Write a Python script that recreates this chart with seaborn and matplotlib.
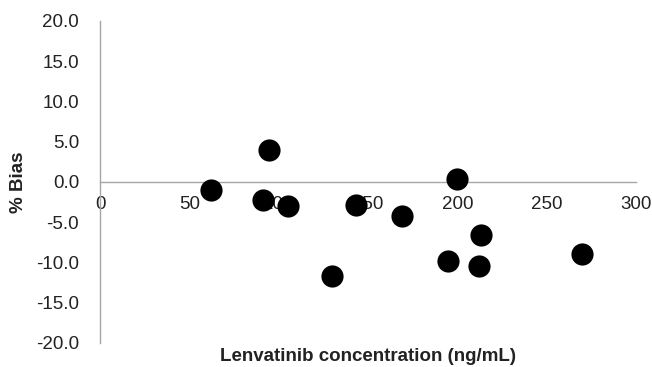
import pandas as pd
import matplotlib.pyplot as plt
import seaborn as sns

# values
concentration = [62, 94.6, 91, 105, 130, 143, 169, 199.6, 213, 194.5, 212, 270]
bias = [-1.0, 4.0, -2.2, -3.0, -11.7, -2.8, -4.2, 0.4, -6.6, -9.8, -10.4, -8.9]
x_ticks = [0, 50, 100, 150, 200, 250, 300]
y_ticks = [-20, -15, -10, -5, 0, 5, 10, 15, 20]

df = pd.DataFrame({'conc': concentration, 'bias': bias})

sns.set_style('white')
plt.rcParams['font.family'] = ['Liberation Sans', 'DejaVu Sans']

fig = plt.figure(figsize=(6.52, 3.67), dpi=100)
ax = fig.add_axes([0.1534, 0.0654, 0.8221, 0.8774])

sns.scatterplot(data=df, x='conc', y='bias', color='black', edgecolor='black',
                s=255, linewidth=0, ax=ax, zorder=3, clip_on=False)

ax.set_xlim(0, 300)
ax.set_ylim(-20, 20)
ax.set_xticks(x_ticks)
ax.set_yticks(y_ticks)
ax.set_yticklabels([f'{v:.1f}' for v in y_ticks])

# excel-style axes: x axis crosses at y = 0
ax.spines['top'].set_visible(False)
ax.spines['right'].set_visible(False)
ax.spines['bottom'].set_position(('data', 0))
for side in ['left', 'bottom']:
    ax.spines[side].set_color('#a6a6a6')
    ax.spines[side].set_linewidth(1.0)

ax.tick_params(axis='both', colors='#a6a6a6', labelcolor='#222222',
               labelsize=13.5, length=4, width=1.0, direction='out')
ax.tick_params(axis='y', pad=11)
ax.tick_params(axis='x', pad=6)

ax.set_xlabel('Lenvatinib concentration (ng/mL)', fontsize=13.5,
              fontweight='bold', color='#222222')
ax.set_ylabel('% Bias', fontsize=13.5, fontweight='bold', color='#222222')
ax.xaxis.set_label_coords(0.5, -0.015)
ax.yaxis.set_label_coords(-0.137, 0.5)

fig.savefig('out.png', dpi=100)
